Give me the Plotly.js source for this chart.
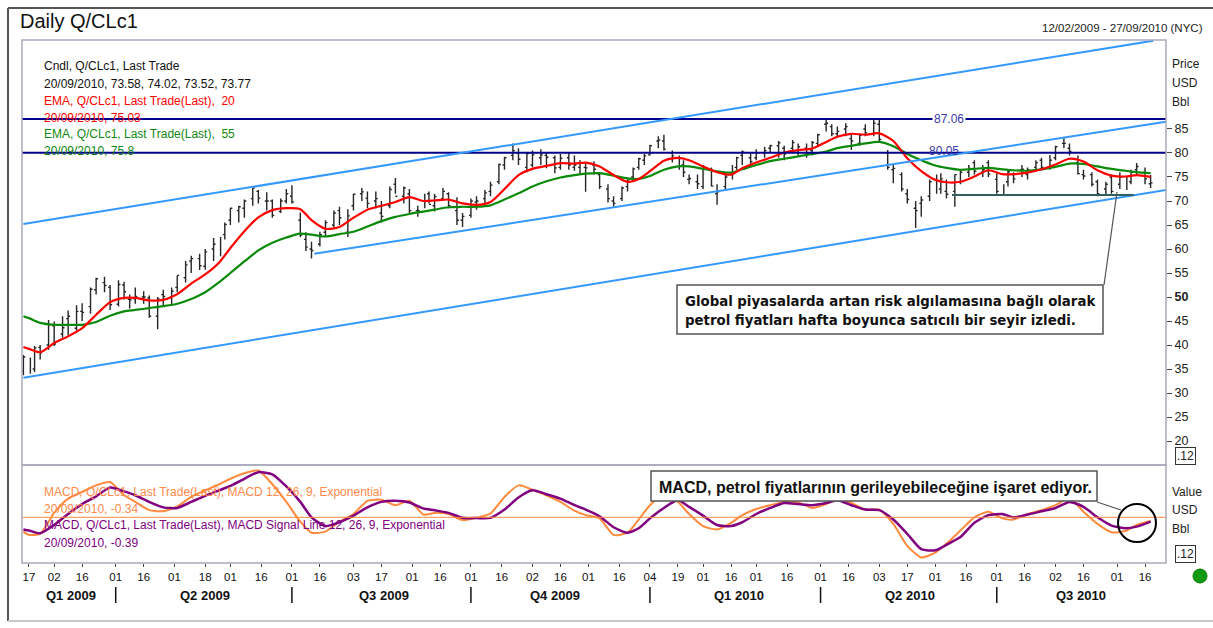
<!DOCTYPE html>
<html><head><meta charset="utf-8">
<script src="https://cdn.plot.ly/plotly-3.0.1.min.js"></script>
<style>html,body{margin:0;padding:0;background:#fff;}#chart{width:1213px;height:628px;}</style>
</head><body><div id="chart"></div>
<script>
// ---------------- DATA ----------------
const barDates = [
"2009-02-12","2009-02-17","2009-02-19","2009-02-23","2009-02-26","2009-03-02","2009-03-05","2009-03-09",
"2009-03-12","2009-03-16","2009-03-19","2009-03-23","2009-03-26","2009-03-30","2009-04-02","2009-04-06",
"2009-04-08","2009-04-13","2009-04-16","2009-04-20","2009-04-23","2009-04-27","2009-04-30","2009-05-04",
"2009-05-07","2009-05-11","2009-05-14","2009-05-18","2009-05-21","2009-05-26","2009-05-28","2009-06-01",
"2009-06-04","2009-06-08","2009-06-11","2009-06-15","2009-06-18","2009-06-22","2009-06-25","2009-06-29",
"2009-07-01","2009-07-07","2009-07-09","2009-07-13","2009-07-16","2009-07-20","2009-07-23","2009-07-27",
"2009-07-30","2009-08-03","2009-08-06","2009-08-10","2009-08-13","2009-08-17","2009-08-20","2009-08-24",
"2009-08-27","2009-08-31","2009-09-03","2009-09-08","2009-09-10","2009-09-14","2009-09-17","2009-09-21",
"2009-09-24","2009-09-28","2009-10-01","2009-10-05","2009-10-08","2009-10-12","2009-10-15","2009-10-19",
"2009-10-22","2009-10-26","2009-10-29","2009-11-02","2009-11-05","2009-11-09","2009-11-12","2009-11-16",
"2009-11-19","2009-11-23","2009-11-25","2009-11-30","2009-12-03","2009-12-07","2009-12-10","2009-12-14",
"2009-12-17","2009-12-21","2009-12-23","2009-12-28","2009-12-30","2010-01-04","2010-01-07","2010-01-11",
"2010-01-14","2010-01-19","2010-01-21","2010-01-25","2010-01-28","2010-02-01","2010-02-04","2010-02-08",
"2010-02-11","2010-02-16","2010-02-18","2010-02-22","2010-02-25","2010-03-01","2010-03-04","2010-03-08",
"2010-03-11","2010-03-15","2010-03-18","2010-03-22","2010-03-25","2010-03-29","2010-03-31","2010-04-06",
"2010-04-08","2010-04-12","2010-04-15","2010-04-19","2010-04-22","2010-04-26","2010-04-29","2010-05-03",
"2010-05-06","2010-05-10","2010-05-13","2010-05-17","2010-05-20","2010-05-24","2010-05-27","2010-06-01",
"2010-06-03","2010-06-07","2010-06-10","2010-06-14","2010-06-17","2010-06-21","2010-06-24","2010-06-28",
"2010-07-01","2010-07-06","2010-07-08","2010-07-12","2010-07-15","2010-07-19","2010-07-22","2010-07-26",
"2010-07-29","2010-08-02","2010-08-05","2010-08-09","2010-08-12","2010-08-16","2010-08-19","2010-08-23",
"2010-08-26","2010-08-30","2010-09-02","2010-09-07","2010-09-09","2010-09-13","2010-09-16","2010-09-20"];
const barOpen = [
34.5,37.0,35.0,39.5,40.0,44.0,42.3,45.5, 43.5,47.0,48.0,51.5,53.0,52.0,48.5,52.5,
49.5,49.6,50.0,49.8,46.0,50.5,50.0,52.0, 54.0,57.5,58.0,56.4,60.0,60.5,63.0,66.0,
68.0,68.5,70.5,72.0,70.0,70.0,67.8,70.0, 71.0,66.0,62.0,60.0,61.0,63.5,65.0,68.0,
63.5,69.0,71.5,70.6,70.0,67.5,69.0,73.5, 71.0,71.5,68.0,69.0,71.5,69.0,70.5,71.5,
68.0,66.0,67.0,69.8,70.5,72.0,74.0,77.5, 79.5,80.0,77.0,77.5,79.0,79.5,79.0,77.0,
79.0,77.0,77.0,77.0,77.5,75.5,72.5,70.0, 70.5,73.0,75.0,77.0,78.5,79.6,82.5,82.5,
80.0,78.0,77.5,74.5,74.0,73.0,76.5,71.5, 73.0,75.0,77.0,79.5,79.0,79.0,80.0,81.0,
81.5,81.0,81.0,80.5,81.0,80.5,82.0,86.0, 85.5,84.0,85.0,83.0,82.0,85.0,84.0,86.0,
80.0,76.5,75.5,71.5,68.5,69.5,71.0,74.0, 72.5,72.0,72.0,74.0,76.0,78.0,76.0,78.0,
74.5,72.5,74.0,75.5,76.5,75.5,77.0,78.5, 77.0,79.0,82.0,81.0,78.0,75.5,75.5,74.0,
72.5,75.0,73.5,74.5,74.0,76.5,76.0,73.58];
const barHigh = [
37.9,37.4,39.8,40.0,45.2,44.9,46.0,47.2, 48.3,48.7,52.0,54.0,54.2,52.5,53.5,53.2,
50.5,52.0,51.2,50.3,50.0,51.5,52.0,54.5, 57.5,58.6,59.0,60.0,62.3,62.5,65.5,68.6,
69.0,70.3,72.7,72.3,71.8,70.3,70.5,72.5, 73.3,67.6,63.5,61.5,63.6,66.0,68.0,68.8,
68.3,71.5,72.7,72.0,72.0,70.0,73.0,74.8, 73.0,72.5,69.0,71.5,72.0,71.5,72.7,71.8,
70.8,67.5,70.5,71.0,72.3,74.0,77.8,79.2, 82.0,81.0,80.0,80.5,80.8,80.0,79.5,79.8,
80.0,79.5,78.5,78.0,78.3,75.8,73.5,71.0, 73.0,74.5,77.0,79.0,79.8,81.7,83.5,83.8,
80.5,79.5,78.5,75.5,75.5,77.5,77.0,73.5, 75.5,77.5,79.2,80.5,80.0,80.8,81.3,81.7,
82.5,81.5,82.7,82.0,82.0,82.5,84.0,86.9, 86.0,85.5,86.2,84.0,84.0,86.0,86.9,86.9,
80.6,77.5,76.0,72.5,70.0,71.0,74.5,75.5, 75.8,74.5,75.5,76.5,77.5,78.5,77.5,78.5,
75.8,73.5,76.5,76.0,77.5,77.0,78.5,79.0, 79.6,81.5,83.1,82.0,79.5,76.5,76.0,74.5,
74.0,75.5,76.0,75.0,76.5,77.9,77.0,75.4];
const barLow = [
33.7,34.0,34.4,37.0,39.0,39.8,41.5,42.0, 43.0,45.0,46.5,50.5,51.0,47.3,48.0,49.5,
47.6,48.6,48.6,45.7,43.3,48.0,48.5,51.0, 53.0,55.0,55.6,55.7,57.5,58.5,62.0,65.0,
65.5,66.5,69.0,69.5,68.0,66.5,67.5,69.5, 69.5,62.5,59.6,58.0,60.5,62.5,64.5,65.0,
62.5,68.0,70.0,68.5,68.5,65.5,68.5,71.5, 69.5,67.5,66.7,68.5,69.5,67.8,70.0,68.5,
65.0,64.6,66.5,68.2,69.5,71.0,73.5,76.5, 78.5,77.5,76.0,77.0,77.5,76.8,75.8,76.5,
76.5,76.3,75.5,71.9,75.5,72.5,69.7,68.8, 70.0,72.0,74.5,76.5,77.5,79.5,81.0,80.5,
78.0,76.5,75.0,73.5,72.5,72.5,73.0,69.2, 72.3,74.5,76.5,77.5,77.0,78.5,79.0,80.0,
79.0,78.5,80.0,79.5,79.0,79.5,81.5,84.5, 83.5,83.5,83.5,80.6,81.5,83.5,83.5,82.1,
76.5,73.7,72.0,69.5,64.4,66.7,70.0,71.5, 71.5,70.5,68.8,73.5,75.0,75.5,75.0,75.0,
71.5,71.2,73.0,73.7,75.0,74.5,76.5,76.5, 76.5,78.5,81.0,79.5,75.5,74.5,73.0,71.0,
71.2,71.5,72.5,72.3,73.5,75.5,73.5,72.7];
const barClose = [
37.5,34.9,39.4,38.4,44.2,40.2,43.6,46.0, 47.0,46.8,51.6,53.8,52.4,48.4,52.6,51.1,
49.4,50.1,50.0,46.0,49.6,50.1,51.2,54.5, 56.7,58.0,56.5,59.4,61.0,62.4,65.1,68.5,
68.8,70.0,72.7,70.6,70.0,67.0,70.0,71.5, 69.8,62.9,60.4,59.7,63.0,65.5,67.5,66.5,
66.9,71.4,71.9,69.5,70.5,66.8,72.4,71.0, 72.7,68.0,68.0,71.0,69.3,70.9,72.0,69.0,
66.0,66.8,70.0,70.0,71.7,73.3,77.6,79.0, 80.5,78.7,79.9,79.6,79.6,79.1,76.9,78.9,
77.5,77.5,77.9,76.9,76.6,73.0,70.5,69.5, 72.7,74.4,76.7,78.8,79.4,81.5,82.7,80.8,
79.4,79.0,76.0,74.7,73.6,77.2,73.1,71.9, 75.0,77.0,79.0,80.2,78.2,80.0,80.5,81.5,
82.1,79.8,82.2,81.3,80.0,82.2,83.8,86.2, 84.0,84.5,85.5,82.5,83.7,84.2,86.2,82.8,
77.0,76.8,72.5,70.3,68.0,70.2,74.0,72.6, 74.6,71.4,75.5,76.0,76.8,76.2,76.5,75.6,
72.0,71.9,76.1,74.6,76.6,76.5,78.0,77.0, 78.5,81.3,82.0,80.3,75.7,75.2,73.5,71.5,
73.5,72.0,75.0,73.0,76.0,77.2,74.6,73.77];

const weekDates = [
"2009-02-12","2009-02-17","2009-02-23","2009-03-02","2009-03-09","2009-03-16","2009-03-23","2009-03-30","2009-04-06","2009-04-13",
"2009-04-20","2009-04-27","2009-05-04","2009-05-11","2009-05-18","2009-05-26","2009-06-01","2009-06-08","2009-06-15","2009-06-22",
"2009-06-29","2009-07-07","2009-07-13","2009-07-20","2009-07-27","2009-08-03","2009-08-10","2009-08-17","2009-08-24","2009-08-31",
"2009-09-08","2009-09-14","2009-09-21","2009-09-28","2009-10-05","2009-10-12","2009-10-19","2009-10-26","2009-11-02","2009-11-09",
"2009-11-16","2009-11-23","2009-11-30","2009-12-07","2009-12-14","2009-12-21","2009-12-28","2010-01-04","2010-01-11","2010-01-19",
"2010-01-25","2010-02-01","2010-02-08","2010-02-16","2010-02-22","2010-03-01","2010-03-08","2010-03-15","2010-03-22","2010-03-29",
"2010-04-06","2010-04-12","2010-04-19","2010-04-26","2010-05-03","2010-05-10","2010-05-17","2010-05-24","2010-06-01","2010-06-07",
"2010-06-14","2010-06-21","2010-06-28","2010-07-06","2010-07-12","2010-07-19","2010-07-26","2010-08-02","2010-08-09","2010-08-16",
"2010-08-23","2010-08-30","2010-09-07","2010-09-13","2010-09-20"];
const ema20 = [
39.6,39.2,38.5,40.4,41.8,43.5,46.3,48.9,49.8,49.8,
49.3,49.4,50.6,52.8,54.7,57.2,60.2,63.7,66.6,68.1,
68.5,68.3,66.0,64.2,64.6,66.5,68.2,69.0,69.8,70.8,
70.0,70.1,70.3,69.5,69.2,69.8,72.5,75.4,76.7,77.3,
77.9,77.8,78.0,77.2,75.4,74.0,74.6,76.2,78.4,79.0,
78.5,77.2,76.0,75.5,76.8,78.0,79.0,80.1,80.6,80.9,
82.3,83.4,84.0,83.8,84.1,82.5,78.9,76.2,74.4,73.9,
74.0,75.1,76.4,75.6,75.6,75.9,76.6,77.6,78.8,78.2,
76.4,75.3,75.1,75.4,75.03];
const ema55 = [
46.0,45.6,44.6,44.2,44.2,44.2,44.8,46.1,47.0,47.3,
47.7,48.1,48.6,49.6,51.0,53.1,55.0,57.4,59.7,61.3,
62.4,63.2,63.0,62.6,63.1,63.6,64.7,65.8,66.7,67.3,
67.8,68.2,68.7,68.8,68.8,69.1,70.3,71.6,73.0,74.1,
74.9,75.4,75.7,75.8,75.3,74.7,74.6,75.2,76.5,77.2,
77.2,76.7,76.2,75.9,76.6,77.5,78.3,78.8,79.3,79.8,
80.3,81.0,81.5,82.0,82.3,81.4,79.8,78.5,77.4,76.9,
76.5,76.7,76.9,76.6,76.4,76.3,76.6,77.1,77.8,77.7,
77.2,76.7,76.3,76.0,75.8];
const macdLine = [
-1.3,-1.6,-1.5,0.4,1.7,2.3,2.9,3.2,2.0,1.4,
0.65,0.55,1.0,1.85,2.45,3.0,3.5,4.0,4.25,3.0,
1.4,-0.4,-1.4,-1.3,-0.4,0.3,1.5,1.6,1.1,1.5,
0.25,0.4,0.3,-0.25,-0.05,0.35,1.85,2.9,2.5,2.0,
1.4,0.6,0.2,-0.1,-1.6,-1.4,-0.2,1.1,2.1,1.4,
0.3,-0.8,-1.1,-0.5,0.2,0.75,1.1,1.4,1.35,0.85,
1.2,1.65,1.3,0.7,0.7,-0.6,-2.6,-3.65,-3.2,-2.4,
-1.2,0.0,0.5,-0.1,-0.2,0.3,0.65,1.1,1.75,0.5,
-0.6,-1.35,-1.25,-0.7,-0.34];
const signalLine = [
-1.1,-1.2,-1.45,-0.7,0.3,1.2,1.9,2.7,2.35,2.0,
1.4,0.9,0.85,1.4,1.95,2.45,2.85,3.5,4.1,3.9,
2.8,1.4,0.0,-0.8,-0.45,0.15,0.9,1.4,1.5,1.35,
0.8,0.65,0.4,-0.05,-0.07,-0.05,0.7,1.8,2.45,2.1,
1.7,1.1,0.7,0.1,-0.9,-1.4,-1.0,-0.1,0.85,1.57,
0.95,0.15,-0.7,-0.8,-0.45,0.3,0.85,1.3,1.2,1.1,
1.3,1.55,1.1,0.7,0.65,-0.2,-1.5,-2.9,-3.0,-2.5,
-1.8,-0.5,0.2,0.3,0.0,0.25,0.55,0.85,1.4,0.95,
0.0,-0.75,-1.0,-0.85,-0.39];

const lastVals = [75.8, 75.03, 73.77];          // EMA55, EMA20, last close markers
const levelVals = [87.06, 80.05];               // horizontal levels
const levelLabels = ["87.06", "80.05"];
const chanStart = ["2009-02-12", "2009-07-14", "2009-02-12"];
const chanStartVal = [65.2, 59.0, 33.2];
const chanEnd = ["2010-09-21", "2010-09-27 12:00", "2010-09-27 12:00"];
const chanEndVal = [103.4, 86.5, 72.3];
const supportDates = ["2010-06-09", "2010-09-10"];
const supportVal = 71.25;

const tickDates = ["2009-02-17","2009-03-02","2009-03-16","2009-04-01","2009-04-16","2009-05-01","2009-05-18","2009-06-01","2009-06-16","2009-07-01","2009-07-16","2009-08-03","2009-08-17","2009-09-01","2009-09-16","2009-10-01","2009-10-16","2009-11-02","2009-11-16","2009-12-01","2009-12-16","2010-01-04","2010-01-19","2010-02-01","2010-02-16","2010-03-01","2010-03-16","2010-04-01","2010-04-16","2010-05-03","2010-05-17","2010-06-01","2010-06-16","2010-07-01","2010-07-16","2010-08-02","2010-08-16","2010-09-01","2010-09-16"];
const tickLabels = ["17","02","16","01","16","01","18","01","16","01","16","03","17","01","16","01","16","02","16","01","16","04","19","01","16","01","16","01","16","03","17","01","16","01","16","02","16","01","16"];
const quarterNames = ["Q1 2009","Q2 2009","Q3 2009","Q4 2009","Q1 2010","Q2 2010","Q3 2010"];
const quarterMid = ["2009-03-10","2009-05-18","2009-08-18","2009-11-12","2010-02-19","2010-05-18","2010-08-13"];
const quarterStarts = ["2009-04-01","2009-07-01","2009-10-01","2010-01-04","2010-04-01","2010-07-01"];
const holidays = ["2009-02-16","2009-04-10","2009-05-25","2009-07-03","2009-09-07","2009-11-26","2009-12-25","2010-01-01","2010-01-18","2010-02-15","2010-04-02","2010-05-31","2010-07-05","2010-09-06"];
const priceTicks = [20,25,30,35,40,45,50,55,60,65,70,75,80,85];

// ---------------- LAYOUT HELPERS ----------------
const L = 22, R = 1166, T = 40, B = 563;
const PX = x => (x - L) / (R - L);
const PY = y => (B - y) / (B - T);
const splitY = PY(465);
const FONT = "Liberation Sans, Arial, sans-serif";

const traces = [
  {type:"ohlc", x:barDates, open:barOpen, high:barHigh, low:barLow, close:barClose,
   increasing:{line:{color:"#262626", width:1.4}}, decreasing:{line:{color:"#262626", width:1.4}},
   tickwidth:0.35, hoverinfo:"skip", xaxis:"x", yaxis:"y"},
  {type:"scatter", mode:"lines", x:weekDates, y:ema55, line:{color:"#0a8a0a", width:2.2, shape:"spline", smoothing:0.7}, xaxis:"x", yaxis:"y", hoverinfo:"skip"},
  {type:"scatter", mode:"lines", x:weekDates, y:ema20, line:{color:"#ff0000", width:2.2, shape:"spline", smoothing:0.7}, xaxis:"x", yaxis:"y", hoverinfo:"skip"},
  {type:"scatter", mode:"lines", x:weekDates, y:macdLine, line:{color:"#ff8a3d", width:2, shape:"spline", smoothing:0.6}, xaxis:"x", yaxis:"y2", hoverinfo:"skip"},
  {type:"scatter", mode:"lines", x:weekDates, y:signalLine, line:{color:"#800080", width:2.5, shape:"spline", smoothing:0.6}, xaxis:"x", yaxis:"y2", hoverinfo:"skip"},
  {type:"scatter", mode:"markers", x:["2010-09-29 12:00","2010-09-29 12:00","2010-09-29 12:00"], y:lastVals,
   marker:{symbol:["diamond","triangle-down","diamond"], color:["#0a8a0a","#ff0000","#000000"], size:[10,9,10]},
   cliponaxis:false, xaxis:"x", yaxis:"y", hoverinfo:"skip"}
];

const shapes = [];
levelVals.forEach(v => shapes.push({type:"line", xref:"paper", yref:"y", x0:0, x1:1, y0:v, y1:v, line:{color:"#00008b", width:2}}));
for (let i = 0; i < chanStart.length; i++) {
  shapes.push({type:"line", xref:"x", yref:"y", x0:chanStart[i], y0:chanStartVal[i], x1:chanEnd[i], y1:chanEndVal[i], line:{color:"#3399ff", width:2}});
}
shapes.push({type:"line", xref:"x", yref:"y", x0:supportDates[0], x1:supportDates[1], y0:supportVal, y1:supportVal, line:{color:"#2f5f5f", width:2}});
shapes.push({type:"line", xref:"paper", yref:"y2", x0:0, x1:1, y0:0, y1:0, line:{color:"#ff8a3d", width:1}});
shapes.push({type:"rect", xref:"paper", yref:"paper", x0:0, x1:1, y0:splitY, y1:1, line:{color:"#a9a9bd", width:1.5}});
shapes.push({type:"rect", xref:"paper", yref:"paper", x0:0, x1:1, y0:0, y1:splitY, line:{color:"#a9a9bd", width:1.5}});
quarterStarts.forEach(d => shapes.push({type:"line", xref:"x", yref:"paper", x0:d, x1:d, y0:PY(587), y1:PY(603), line:{color:"#111", width:1.5}}));
shapes.push({type:"rect", xref:"paper", yref:"paper", x0:PX(677), x1:PX(1103), y0:PY(334), y1:PY(285), fillcolor:"#ffffff", line:{color:"#555", width:1.5}});
shapes.push({type:"line", xref:"paper", yref:"paper", x0:PX(1104), y0:PY(285), x1:PX(1117), y1:PY(192), line:{color:"#555", width:1.2}});
shapes.push({type:"rect", xref:"paper", yref:"paper", x0:PX(651), x1:PX(1097), y0:PY(501), y1:PY(471), fillcolor:"#ffffff", line:{color:"#555", width:1.5}});
shapes.push({type:"line", xref:"paper", yref:"paper", x0:PX(1097), y0:PY(502), x1:PX(1121), y1:PY(510), line:{color:"#555", width:1.2}});
shapes.push({type:"circle", xref:"paper", yref:"paper", x0:PX(1118), x1:PX(1156), y0:PY(542), y1:PY(504), line:{color:"#000", width:2}});
shapes.push({type:"line", xref:"paper", yref:"paper", x0:PX(8), x1:PX(8), y0:PY(8), y1:PY(621), line:{color:"#555", width:2}});
shapes.push({type:"line", xref:"paper", yref:"paper", x0:PX(8), x1:PX(1213), y0:PY(8), y1:PY(8), line:{color:"#555", width:2}});
shapes.push({type:"line", xref:"paper", yref:"paper", x0:PX(8), x1:PX(1213), y0:PY(621), y1:PY(621), line:{color:"#c8c8c8", width:2}});
shapes.push({type:"circle", xref:"paper", yref:"paper", x0:PX(1193), x1:PX(1207), y0:PY(583), y1:PY(569), fillcolor:"#119911", line:{color:"#0a7a0a", width:1}});

const ann = [];
function txt(text, x, y, color, size, opts) {
  ann.push(Object.assign({text:text, xref:"paper", yref:"paper", x:PX(x), y:PY(y), xanchor:"left", yanchor:"middle",
    showarrow:false, font:{family:FONT, size:size, color:color}}, opts || {}));
}
txt("Cndl, Q/CLc1, Last Trade", 42, 66, "#111", 12);
txt("20/09/2010, 73.58, 74.02, 73.52, 73.77", 42, 84, "#111", 12);
txt("EMA, Q/CLc1, Last Trade(Last),  20", 42, 101, "#ff0000", 12);
txt("20/09/2010, 75.03", 42, 118, "#ff0000", 12);
txt("EMA, Q/CLc1, Last Trade(Last),  55", 42, 134, "#118811", 12);
txt("20/09/2010, 75.8", 42, 151, "#118811", 12);
txt("MACD, Q/CLc1, Last Trade(Last), MACD 12, 26, 9, Exponential", 42, 492, "#ff8a4a", 12);
txt("20/09/2010, -0.34", 42, 509, "#ff8a4a", 12);
txt("MACD, Q/CLc1, Last Trade(Last), MACD Signal Line 12, 26, 9, Exponential", 42, 525, "#800080", 12);
txt("20/09/2010, -0.39", 42, 543, "#800080", 12);
ann.push({text:levelLabels[0], xref:"x", yref:"y", x:"2010-06-08", y:levelVals[0], showarrow:false, bgcolor:"#ffffff", borderpad:1,
  font:{family:FONT, size:12, color:"#3a3aa8"}});
ann.push({text:levelLabels[1], xref:"x", yref:"y", x:"2010-06-06", y:levelVals[1], yshift:2, showarrow:false,
  font:{family:FONT, size:12, color:"#3a3aa8"}});
txt("<b>Global piyasalarda artan risk algılamasına bağlı olarak<br>petrol fiyatları hafta boyunca satıcılı bir seyir izledi.</b>", 683, 310, "#111", 14.8,
  {font:{family:"DejaVu Sans Condensed, DejaVu Sans, sans-serif", size:14.8, color:"#111"}, align:"left"});
txt("<b>MACD, petrol fiyatlarının gerileyebileceğine işaret ediyor.</b>", 657, 487, "#111", 16,
  {font:{family:FONT, size:16, color:"#111"}});
quarterNames.forEach((q, i) => ann.push({text:"<b>" + q + "</b>", xref:"x", yref:"paper", x:quarterMid[i], y:PY(595), yanchor:"middle",
  showarrow:false, font:{family:FONT, size:13, color:"#111"}}));
txt("Price", 1170, 64, "#222", 12);
txt("USD", 1170, 83, "#222", 12);
txt("Bbl", 1170, 102, "#222", 12);
txt("Value", 1170, 492, "#222", 12);
txt("USD", 1170, 510, "#222", 12);
txt("Bbl", 1170, 529, "#222", 12);
txt(".12", 1175, 456, "#222", 12, {bordercolor:"#333", borderwidth:1, borderpad:1});
txt(".12", 1175, 554, "#222", 12, {bordercolor:"#333", borderwidth:1, borderpad:1});
ann.push({text:"12/02/2009 - 27/09/2010 (NYC)", xref:"paper", yref:"paper", x:PX(1205), y:PY(28), xanchor:"right", yanchor:"middle",
  showarrow:false, font:{family:FONT, size:11.5, color:"#222"}});

const layout = {
  width:1213, height:628,
  margin:{l:L, r:1213 - R, t:T, b:628 - B},
  paper_bgcolor:"#ffffff", plot_bgcolor:"#ffffff",
  showlegend:false, hovermode:false,
  font:{family:FONT, color:"#222"},
  title:{text:"Daily Q/CLc1", xref:"container", yref:"container", x:20/1213, xanchor:"left", y:1 - 21/628, yanchor:"middle",
         font:{family:FONT, size:20, color:"#111"}},
  xaxis:{type:"date", range:["2009-02-11 12:00","2010-09-27 12:00"],
         rangebreaks:[{bounds:["sat","mon"]},{values:holidays}],
         rangeslider:{visible:false}, anchor:"y2",
         tickmode:"array", tickvals:tickDates, ticktext:tickLabels,
         ticks:"outside", ticklen:3, tickcolor:"#444", showgrid:false, zeroline:false, showline:false,
         tickfont:{family:FONT, size:11.5, color:"#111"}, fixedrange:true},
  yaxis:{domain:[splitY, 1], range:[15.0, 103.54], side:"right", anchor:"x",
         tickmode:"array", tickvals:priceTicks, ticktext:priceTicks.map(v => v === 50 ? "<b>50</b>" : String(v)),
         ticks:"outside", ticklen:5, tickcolor:"#444", showgrid:false, zeroline:false, showline:false,
         tickfont:{family:FONT, size:12.5, color:"#222"}, fixedrange:true},
  yaxis2:{domain:[0, splitY], range:[-4.15, 4.75], side:"right", anchor:"x", showticklabels:false, ticks:"",
          showgrid:false, zeroline:false, showline:false, fixedrange:true},
  shapes:shapes, annotations:ann
};

Plotly.newPlot("chart", traces, layout, {staticPlot:true, displayModeBar:false});
</script>
</body></html>
